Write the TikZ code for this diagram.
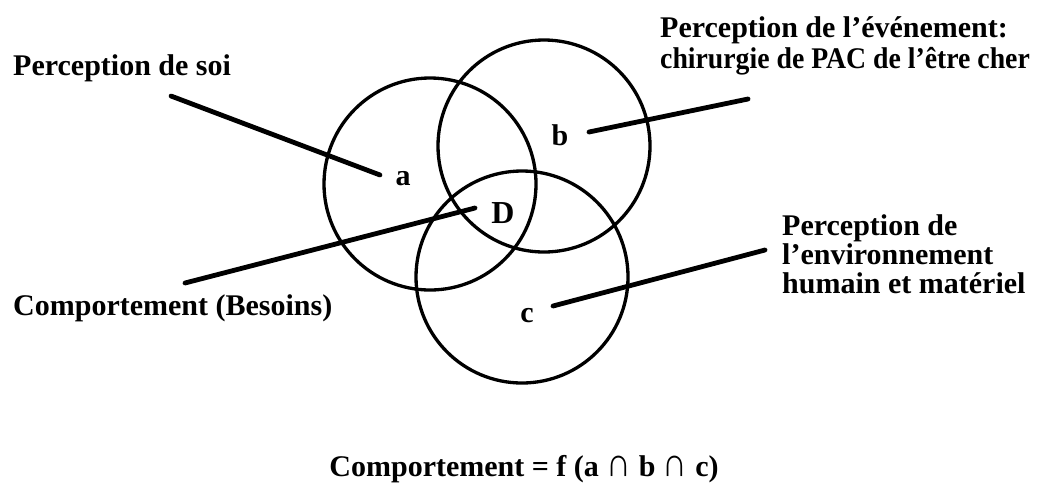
\documentclass[tikz,border=0pt]{standalone}
\usepackage{fontspec}
\setmainfont{Liberation Serif}
\newcommand{\myinter}{\raisebox{-0.3pt}{\scalebox{1.15}[1.35]{∩}}}
\begin{document}
\begin{tikzpicture}[x=1pt,y=-1pt,
  txt/.style={font=\fontsize{30}{36}\selectfont\bfseries, inner sep=0pt},
  ring/.style={draw, circle, line width=3.3pt, minimum size=212pt, inner sep=0pt},
  leader/.style={line width=4.8pt, line cap=round}]
\useasboundingbox (0,0) rectangle (1056,483);
% circles
\node[ring] (ca) at (430,184) {};
\node[ring] (cb) at (544,146) {};
\node[ring] (cc) at (522,277) {};
% letters
\node[txt, anchor=base] (la) at (403,185) {a};
\node[txt, anchor=base] (lb) at (560,145) {b};
\node[txt, anchor=base, font=\fontsize{32}{36}\selectfont\bfseries] (lD) at (503,223) {D};
\node[txt, anchor=base] (lc) at (527,322) {c};
% labels
\node[txt, anchor=base west] (tsoi) at (13,75) {Perception de soi};
\node[txt, anchor=base west] (tevt) at (660,37) {Perception de l’événement:};
\node[txt, anchor=base west] (tevt2) at (660,68) {\scalebox{0.925}[1]{chirurgie de PAC de l\symbol{"0027}être cher}};
\node[txt, anchor=base west] (tenv1) at (782,235) {Perception de};
\node[txt, anchor=base west] (tenv2) at (782,264) {l’environnement};
\node[txt, anchor=base west] (tenv3) at (782,293) {humain et matériel};
\node[txt, anchor=base west] (tcomp) at (13,315) {Comportement (Besoins)};
\node[txt, anchor=base] (tform) at (524,476) {Comportement = f (a \myinter{} b \myinter{} c)};
% leader end points
\coordinate (s1) at (171,96);
\coordinate (e1) at (380,175);
\coordinate (s2) at (748,99);
\coordinate (e2) at (589,132);
\coordinate (s3) at (185,283);
\coordinate (e3) at (475,208);
\coordinate (s4) at (765,250);
\coordinate (e4) at (553,306);
\draw[leader] (s1) -- (e1);
\draw[leader] (s2) -- (e2);
\draw[leader] (s3) -- (e3);
\draw[leader] (s4) -- (e4);
\end{tikzpicture}
\end{document}
